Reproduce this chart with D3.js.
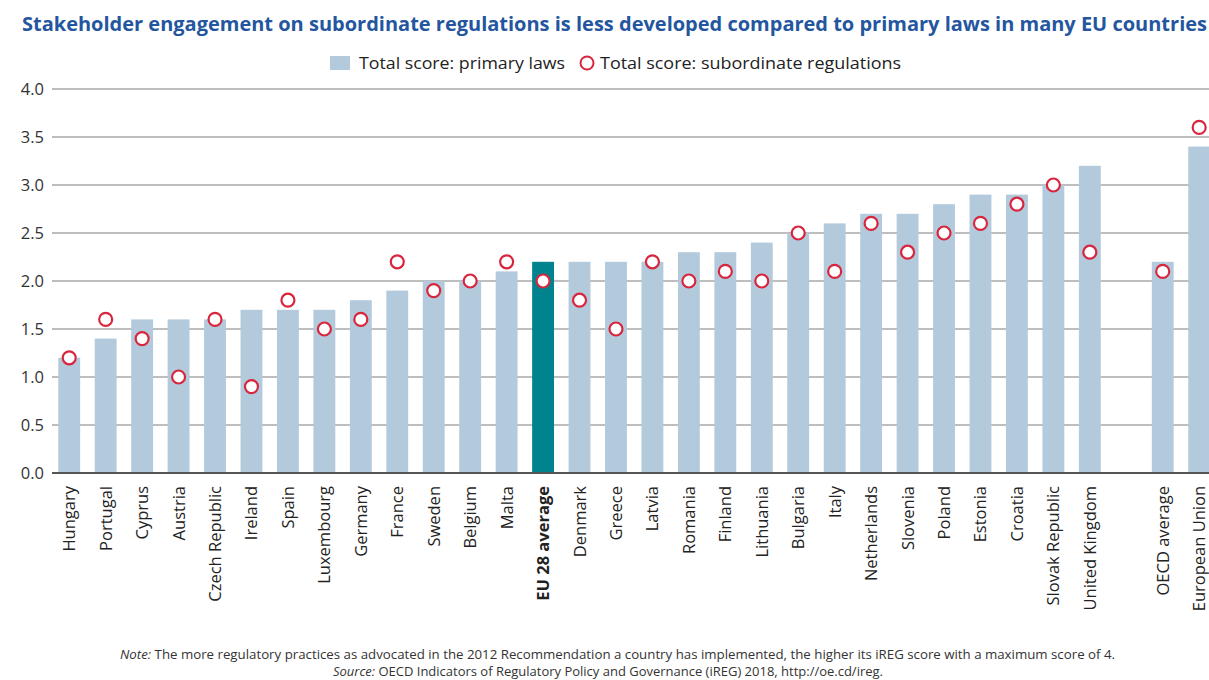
<!DOCTYPE html>
<html>
<head>
<meta charset="utf-8">
<script src="https://d3js.org/d3.v7.min.js"></script>
<style>
  body { margin: 0; background: #fff; }
  text { font-family: "Open Sans", "Noto Sans", sans-serif; }
</style>
</head>
<body>
<div id="chart"></div>
<script>
// Country labels, left to right ("" is the empty slot before the OECD block)
var countries = ["Hungary", "Portugal", "Cyprus", "Austria", "Czech Republic", "Ireland", "Spain",
  "Luxembourg", "Germany", "France", "Sweden", "Belgium", "Malta", "EU 28 average", "Denmark",
  "Greece", "Latvia", "Romania", "Finland", "Lithuania", "Bulgaria", "Italy", "Netherlands",
  "Slovenia", "Poland", "Estonia", "Croatia", "Slovak Republic", "United Kingdom", "",
  "OECD average", "European Union"];

// Total score: primary laws (bars)
var primaryLaws = [1.2, 1.4, 1.6, 1.6, 1.6, 1.7, 1.7, 1.7, 1.8, 1.9, 2.0, 2.0, 2.1, 2.2, 2.2,
  2.2, 2.2, 2.3, 2.3, 2.4, 2.5, 2.6, 2.7, 2.7, 2.8, 2.9, 2.9, 3.0, 3.2, null, 2.2, 3.4];

// Total score: subordinate regulations (circles)
var subordinateRegs = [1.2, 1.6, 1.4, 1.0, 1.6, 0.9, 1.8, 1.5, 1.6, 2.2, 1.9, 2.0, 2.2, 2.0, 1.8,
  1.5, 2.2, 2.0, 2.1, 2.0, 2.5, 2.1, 2.6, 2.3, 2.5, 2.6, 2.8, 3.0, 2.3, null, 2.1, 3.6];

var yTicks = [0, 0.5, 1, 1.5, 2, 2.5, 3, 3.5, 4];

var W = 1209, H = 680;
var barColor = "#b3cadd", highlight = "#00828f", dotColor = "#d7263d";

var svg = d3.select("#chart").append("svg")
  .attr("width", W)
  .attr("height", H);

// Title
svg.append("text")
  .attr("x", 22)
  .attr("y", 31)
  .attr("textLength", 1185)
  .attr("lengthAdjust", "spacingAndGlyphs")
  .style("font-size", "19px")
  .style("font-weight", "bold")
  .style("fill", "#2456a0")
  .text("Stakeholder engagement on subordinate regulations is less developed compared to primary laws in many EU countries");

// Legend
var legend = svg.append("g").attr("transform", "translate(0,63)");
legend.append("rect")
  .attr("x", 330).attr("y", -7).attr("width", 20).attr("height", 14)
  .style("fill", barColor);
legend.append("text")
  .attr("x", 359).attr("y", 6)
  .attr("textLength", 206).attr("lengthAdjust", "spacingAndGlyphs")
  .style("font-size", "16px").style("fill", "#222")
  .text("Total score: primary laws");
legend.append("circle")
  .attr("cx", 587).attr("cy", 0).attr("r", 6.5)
  .style("fill", "#fff").style("stroke", dotColor).style("stroke-width", 2);
legend.append("text")
  .attr("x", 600).attr("y", 6)
  .attr("textLength", 301).attr("lengthAdjust", "spacingAndGlyphs")
  .style("font-size", "16px").style("fill", "#222")
  .text("Total score: subordinate regulations");

// Scales
var x = d3.scaleBand()
  .domain(d3.range(countries.length))
  .range([51, 51 + 36.45 * countries.length])
  .paddingInner(0.4)
  .paddingOuter(0.2);

var y = d3.scaleLinear()
  .domain([0, 4])
  .range([473, 89]);

// Gridlines
svg.append("g")
  .selectAll("line")
  .data(yTicks.filter(function(d) { return d > 0; }))
  .enter().append("line")
  .attr("x1", 52).attr("x2", W)
  .attr("y1", function(d) { return y(d); })
  .attr("y2", function(d) { return y(d); })
  .style("stroke", "#a8a8a8")
  .style("stroke-width", 1.5);

// Y axis labels
var yAxis = svg.append("g")
  .attr("transform", "translate(44,0)")
  .call(d3.axisLeft(y).tickValues(yTicks).tickFormat(d3.format(".1f")).tickSize(0).tickPadding(0));
yAxis.select(".domain").remove();
yAxis.selectAll("text")
  .style("font-size", "16.5px")
  .style("fill", "#333")
  .attr("dy", "0.35em");

// Bars
svg.append("g")
  .selectAll("rect")
  .data(primaryLaws.map(function(v, i) { return {i: i, v: v}; }).filter(function(d) { return d.v != null; }))
  .enter().append("rect")
  .attr("x", function(d) { return x(d.i); })
  .attr("width", x.bandwidth())
  .attr("y", function(d) { return y(d.v); })
  .attr("height", function(d) { return y(0) - y(d.v); })
  .style("fill", function(d) { return countries[d.i] === "EU 28 average" ? highlight : barColor; });

// Baseline
svg.append("line")
  .attr("x1", 52).attr("x2", W)
  .attr("y1", y(0)).attr("y2", y(0))
  .style("stroke", "#555")
  .style("stroke-width", 2);

// Circles
svg.append("g")
  .selectAll("circle")
  .data(subordinateRegs.map(function(v, i) { return {i: i, v: v}; }).filter(function(d) { return d.v != null; }))
  .enter().append("circle")
  .attr("cx", function(d) { return x(d.i) + x.bandwidth() / 2; })
  .attr("cy", function(d) { return y(d.v); })
  .attr("r", 6.5)
  .style("fill", "#fff")
  .style("stroke", dotColor)
  .style("stroke-width", 2.2);

// X labels (rotated)
svg.append("g")
  .selectAll("text")
  .data(countries.map(function(c, i) { return {i: i, c: c}; }).filter(function(d) { return d.c !== ""; }))
  .enter().append("text")
  .attr("transform", function(d) {
    return "translate(" + (x(d.i) + x.bandwidth() / 2 + 6) + ",486) rotate(-90)";
  })
  .attr("text-anchor", "end")
  .style("font-size", "16.5px")
  .style("font-weight", function(d) { return d.c === "EU 28 average" ? "bold" : "normal"; })
  .style("fill", "#222")
  .text(function(d) { return d.c; });

// Notes
var note = svg.append("text")
  .attr("x", 120).attr("y", 659)
  .attr("textLength", 995).attr("lengthAdjust", "spacingAndGlyphs")
  .style("font-size", "12px").style("fill", "#333");
note.append("tspan").style("font-style", "italic").text("Note:");
note.append("tspan").text(" The more regulatory practices as advocated in the 2012 Recommendation a country has implemented, the higher its iREG score with a maximum score of 4.");

var src = svg.append("text")
  .attr("x", 333).attr("y", 676)
  .attr("textLength", 550).attr("lengthAdjust", "spacingAndGlyphs")
  .style("font-size", "12px").style("fill", "#333");
src.append("tspan").style("font-style", "italic").text("Source:");
src.append("tspan").text(" OECD Indicators of Regulatory Policy and Governance (iREG) 2018, http://oe.cd/ireg.");
</script>
</body>
</html>
